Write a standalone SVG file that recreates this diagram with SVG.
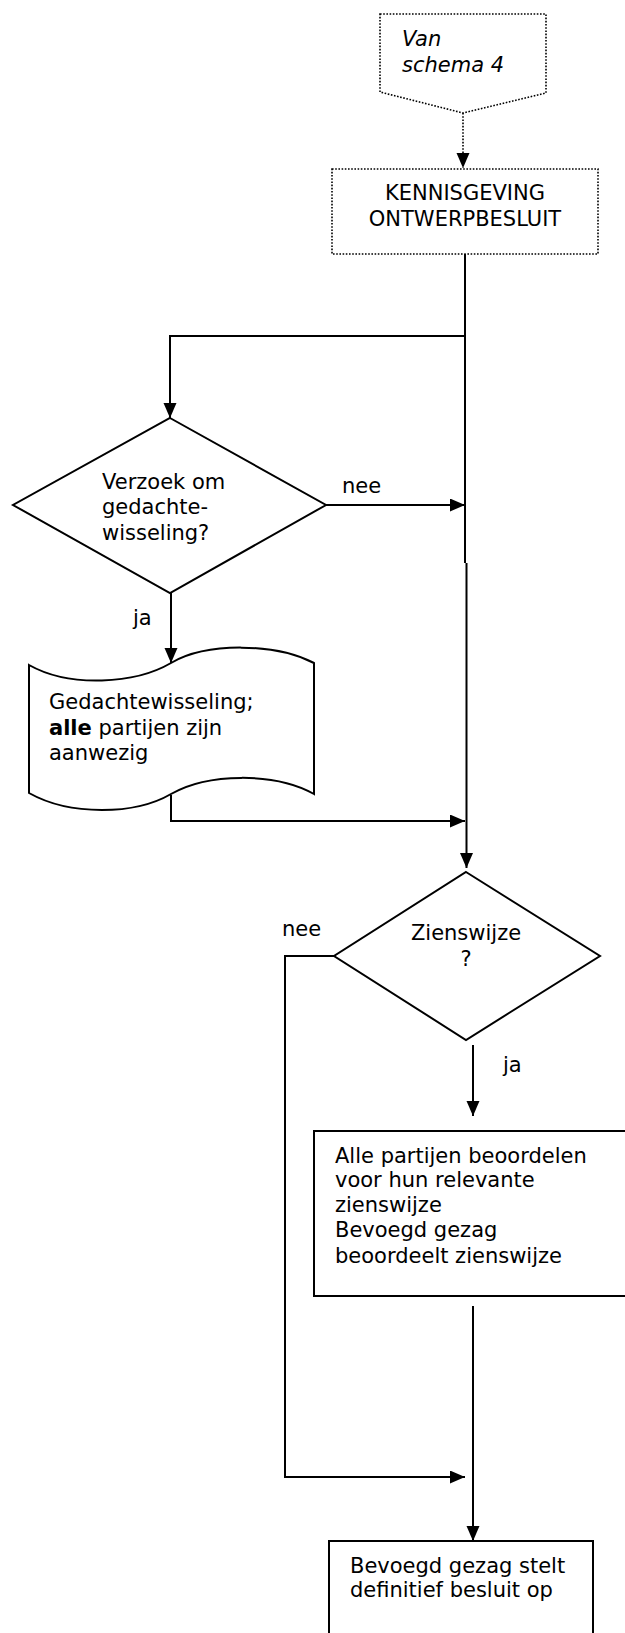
<svg xmlns="http://www.w3.org/2000/svg" width="625" height="1633" viewBox="0 0 625 1633">
<style>
text{font-family:"DejaVu Sans","Verdana",sans-serif;font-size:21px;fill:#000}
.it{font-style:italic}
.b{font-weight:bold}
.mid{text-anchor:middle}
.shape{fill:#fff;stroke:#000;stroke-width:2}
.dot{fill:#fff;stroke:#000;stroke-width:1.6;stroke-dasharray:1.6 1.6}
.ln{fill:none;stroke:#000;stroke-width:2}
.dln{fill:none;stroke:#000;stroke-width:1.6;stroke-dasharray:1.6 1.6}
</style>
<defs>
<marker id="ah" markerUnits="userSpaceOnUse" markerWidth="16" markerHeight="14" refX="15" refY="6.5" orient="auto">
<path d="M0,0 L15,6.5 L0,13 Z" fill="#000"/>
</marker>
</defs>
<rect width="625" height="1633" fill="#fff"/>
<g id="connectors">
<path class="dln" d="M463,113 L463,168" marker-end="url(#ah)"/>
<path class="ln" d="M465,254 L465,563"/>
<path class="ln" d="M466.5,563 L466.5,868" marker-end="url(#ah)"/>
<path class="ln" d="M465,336 L170,336 L170,418" marker-end="url(#ah)"/>
<path class="ln" d="M326,505 L465,505" marker-end="url(#ah)"/>
<path class="ln" d="M171,593 L171,663" marker-end="url(#ah)"/>
<path class="ln" d="M171,795 L171,821 L465,821" marker-end="url(#ah)"/>
<path class="ln" d="M334,956 L285,956 L285,1477 L465,1477" marker-end="url(#ah)"/>
<path class="ln" d="M473,1045 L473,1116" marker-end="url(#ah)"/>
<path class="ln" d="M473,1306 L473,1541" marker-end="url(#ah)"/>
</g>
<g id="n-van">
<path class="dot" d="M380,14 L546,14 L546,93 L463,113 L380,92 Z"/>
<text class="it" x="402" y="46">Van</text>
<text class="it" x="402" y="72">schema 4</text>
</g>
<g id="n-kennisgeving">
<rect class="dot" x="332" y="169" width="266" height="85"/>
<text class="mid" x="465" y="200">KENNISGEVING</text>
<text class="mid" x="465" y="226">ONTWERPBESLUIT</text>
</g>
<g id="n-verzoek">
<path class="shape" d="M170,418 L326,505 L170,593 L13,505 Z"/>
<text x="102" y="489">Verzoek om</text>
<text x="102" y="514">gedachte-</text>
<text x="102" y="540">wisseling?</text>
</g>
<text x="342" y="493">nee</text>
<text x="133" y="625">ja</text>
<g id="n-gedachtewisseling">
<path class="shape" d="M29,665 C70,688 135,684 171,663 C207,642 275,643 314,663 L314,794 C275,772 207,773 171,794 C135,815 70,816 29,793 Z"/>
<text x="49" y="709">Gedachtewisseling;</text>
<text x="49" y="735"><tspan class="b">alle</tspan> partijen zijn</text>
<text x="49" y="760">aanwezig</text>
</g>
<g id="n-zienswijze">
<path class="shape" d="M466,872 L600,956 L466,1040 L334,956 Z"/>
<text class="mid" x="466" y="940">Zienswijze</text>
<text class="mid" x="466" y="966">?</text>
</g>
<text x="282" y="936">nee</text>
<text x="503" y="1072">ja</text>
<g id="n-beoordelen">
<rect class="shape" x="314" y="1131" width="314" height="165"/>
<text x="335" y="1163">Alle partijen beoordelen</text>
<text x="335" y="1187">voor hun relevante</text>
<text x="335" y="1212">zienswijze</text>
<text x="335" y="1237">Bevoegd gezag</text>
<text x="335" y="1263">beoordeelt zienswijze</text>
</g>
<g id="n-besluit">
<rect class="shape" x="329" y="1541" width="264" height="100"/>
<text x="350" y="1573">Bevoegd gezag stelt</text>
<text x="350" y="1597">definitief besluit op</text>
</g>
</svg>
